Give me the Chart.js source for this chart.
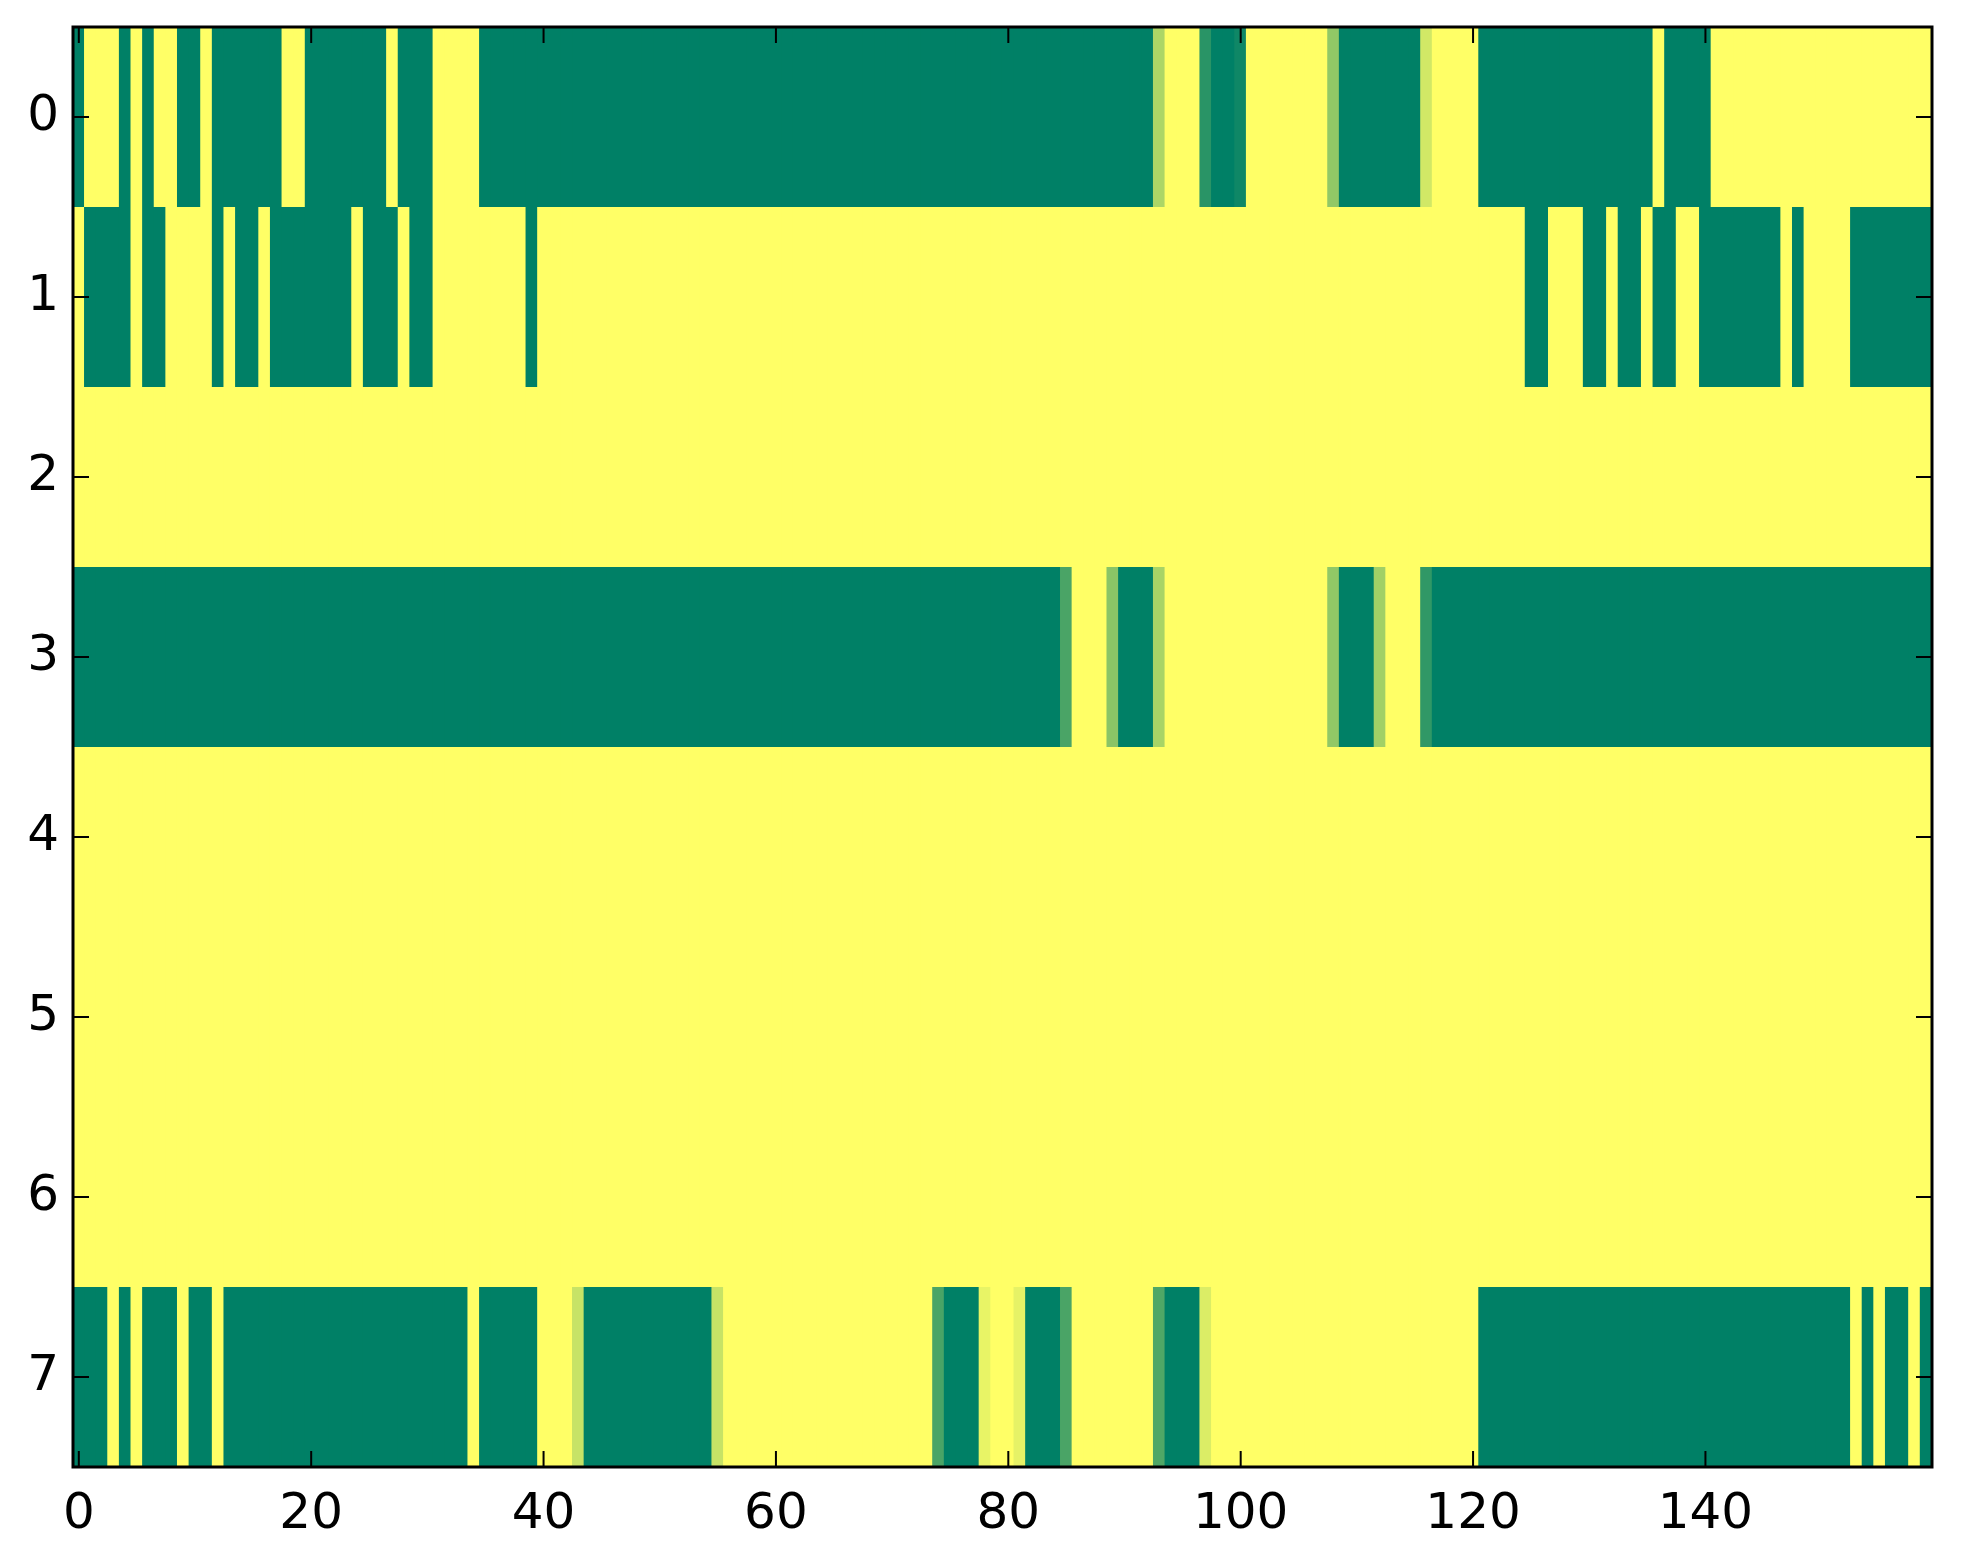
<!DOCTYPE html>
<html>
<head>
<meta charset="utf-8">
<script src="https://cdn.jsdelivr.net/npm/chart.js@4.4.1/dist/chart.umd.min.js"></script>
<style>
  html, body { margin: 0; padding: 0; background: #ffffff; }
  #wrap { width: 1963px; height: 1564px; position: relative; }
</style>
</head>
<body>
<div id="wrap"><canvas id="c"></canvas></div>
<script>
// ---- data (value 0 = green, 1 = yellow, "summer" colormap) ----
const rowLabels = [0, 1, 2, 3, 4, 5, 6, 7];
const xTickValues = [0, 20, 40, 60, 80, 100, 120, 140];

const row0 = [
  0,1,1,1,0,1,0,1,1,0,0,1,0,0,0,0,0,0,1,1,
  0,0,0,0,0,0,0,1,0,0,0,1,1,1,1,0,0,0,0,0,
  0,0,0,0,0,0,0,0,0,0,0,0,0,0,0,0,0,0,0,0,
  0,0,0,0,0,0,0,0,0,0,0,0,0,0,0,0,0,0,0,0,
  0,0,0,0,0,0,0,0,0,0,0,0,0,0.68,1,1,1,0.16,0,0,
  0.06,1,1,1,1,1,1,1,0.57,0,0,0,0,0,0,0,0.82,1,1,1,
  1,0,0,0,0,0,0,0,0,0,0,0,0,0,0,0,1,0,0,0,
  0,1,1,1,1,1,1,1,1,1,1,1,1,1,1,1,1,1,1,1
];
const row1 = [
  1,0,0,0,0,1,0,0,1,1,1,1,0,1,0,0,1,0,0,0,
  0,0,0,0,1,0,0,0,1,0,0,1,1,1,1,1,1,1,1,0,
  1,1,1,1,1,1,1,1,1,1,1,1,1,1,1,1,1,1,1,1,
  1,1,1,1,1,1,1,1,1,1,1,1,1,1,1,1,1,1,1,1,
  1,1,1,1,1,1,1,1,1,1,1,1,1,1,1,1,1,1,1,1,
  1,1,1,1,1,1,1,1,1,1,1,1,1,1,1,1,1,1,1,1,
  1,1,1,1,1,0,0,1,1,1,0,0,1,0,0,1,0,0,1,1,
  0,0,0,0,0,0,0,1,0,1,1,1,1,0,0,0,0,0,0,0
];
const row2 = [
  1,1,1,1,1,1,1,1,1,1,1,1,1,1,1,1,1,1,1,1,
  1,1,1,1,1,1,1,1,1,1,1,1,1,1,1,1,1,1,1,1,
  1,1,1,1,1,1,1,1,1,1,1,1,1,1,1,1,1,1,1,1,
  1,1,1,1,1,1,1,1,1,1,1,1,1,1,1,1,1,1,1,1,
  1,1,1,1,1,1,1,1,1,1,1,1,1,1,1,1,1,1,1,1,
  1,1,1,1,1,1,1,1,1,1,1,1,1,1,1,1,1,1,1,1,
  1,1,1,1,1,1,1,1,1,1,1,1,1,1,1,1,1,1,1,1,
  1,1,1,1,1,1,1,1,1,1,1,1,1,1,1,1,1,1,1,1
];
const row3 = [
  0,0,0,0,0,0,0,0,0,0,0,0,0,0,0,0,0,0,0,0,
  0,0,0,0,0,0,0,0,0,0,0,0,0,0,0,0,0,0,0,0,
  0,0,0,0,0,0,0,0,0,0,0,0,0,0,0,0,0,0,0,0,
  0,0,0,0,0,0,0,0,0,0,0,0,0,0,0,0,0,0,0,0,
  0,0,0,0,0,0.29,1,1,1,0.54,0,0,0,0.66,1,1,1,1,1,1,
  1,1,1,1,1,1,1,1,0.57,0,0,0,0.63,1,1,1,0.19,0,0,0,
  0,0,0,0,0,0,0,0,0,0,0,0,0,0,0,0,0,0,0,0,
  0,0,0,0,0,0,0,0,0,0,0,0,0,0,0,0,0,0,0,0
];
const row4 = row2.slice();
const row5 = row2.slice();
const row6 = row2.slice();
const row7 = [
  0,0,0,1,0,1,0,0,0,1,0,0,1,0,0,0,0,0,0,0,
  0,0,0,0,0,0,0,0,0,0,0,0,0,0,1,0,0,0,0,0,
  1,1,1,0.78,0,0,0,0,0,0,0,0,0,0,0,0.78,1,1,1,1,
  1,1,1,1,1,1,1,1,1,1,1,1,1,1,0.29,0,0,0,0.91,1,
  1,0.9,0,0,0,0.29,1,1,1,1,1,1,1,0.31,0,0,0,0.86,1,1,
  1,1,1,1,1,1,1,1,1,1,1,1,1,1,1,1,1,1,1,1,
  1,0,0,0,0,0,0,0,0,0,0,0,0,0,0,0,0,0,0,0,
  0,0,0,0,0,0,0,0,0,0,0,0,0,1,0,1,0,0,1,0
];
const rows = [row0, row1, row2, row3, row4, row5, row6, row7];
const columns = row0.map((_, i) => i);

// summer colormap
function summer(v) {
  const r = Math.round(255 * v);
  const g = Math.round(255 * (0.5 + 0.5 * v));
  const b = 102;
  return `rgb(${r},${g},${b})`;
}

const datasets = rows.map((vals, r) => ({
  label: 'row ' + r,
  data: vals.map(() => [r - 0.5, r + 0.5]),
  backgroundColor: vals.map(summer),
  borderWidth: 0,
  grouped: false,
  barPercentage: 1.1,
  categoryPercentage: 1.0
}));

const FONT = { family: 'DejaVu Sans', size: 50 };

const framePlugin = {
  id: 'frame',
  afterDatasetsDraw(chart) {
    const { ctx, chartArea: a, scales } = chart;
    ctx.save();
    ctx.strokeStyle = '#000';
    ctx.lineWidth = 2;
    const L = 16;
    xTickValues.forEach(v => {
      const px = scales.x.getPixelForValue(v);
      ctx.beginPath();
      ctx.moveTo(px, a.bottom); ctx.lineTo(px, a.bottom - L);
      ctx.moveTo(px, a.top); ctx.lineTo(px, a.top + L);
      ctx.stroke();
    });
    rowLabels.forEach(v => {
      const py = scales.y.getPixelForValue(v);
      ctx.beginPath();
      ctx.moveTo(a.left, py); ctx.lineTo(a.left + L, py);
      ctx.moveTo(a.right, py); ctx.lineTo(a.right - L, py);
      ctx.stroke();
    });
    ctx.lineWidth = 3;
    ctx.strokeRect(a.left, a.top, a.right - a.left, a.bottom - a.top);
    ctx.restore();
  }
};

new Chart(document.getElementById('c'), {
  type: 'bar',
  data: { labels: columns, datasets },
  options: {
    responsive: true,
    maintainAspectRatio: false,
    animation: false,
    devicePixelRatio: 1,
    layout: { padding: { left: 0, right: 31, top: 27, bottom: 0 } },
    plugins: { legend: { display: false }, tooltip: { enabled: false } },
    scales: {
      x: {
        type: 'category',
        offset: true,
        grid: { display: false, drawTicks: false },
        border: { display: false },
        ticks: {
          autoSkip: false,
          maxRotation: 0,
          padding: 18,
          color: '#000',
          font: FONT,
          callback: (val, idx) => (xTickValues.includes(idx) ? String(columns[idx]) : '')
        },
        afterFit: s => { s.height = 97; s.paddingLeft = 0; s.paddingRight = 0; }
      },
      y: {
        type: 'linear',
        reverse: true,
        min: -0.5,
        max: 7.5,
        grid: { display: false, drawTicks: false },
        border: { display: false },
        afterBuildTicks: s => { s.ticks = rowLabels.map(v => ({ value: v })); },
        ticks: { padding: 14, color: '#000', font: FONT, callback: v => String(v) },
        afterFit: s => { s.width = 73; s.paddingTop = 0; s.paddingBottom = 0; }
      }
    }
  },
  plugins: [framePlugin]
});
</script>
</body>
</html>
